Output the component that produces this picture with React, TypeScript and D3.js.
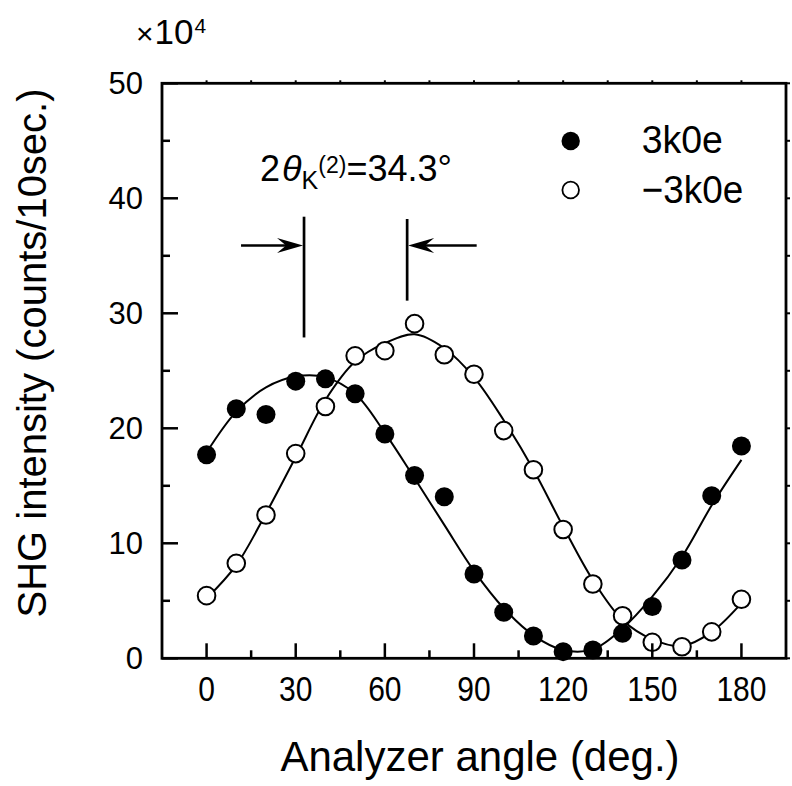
import React from "react";
import * as d3 from "d3";

// analyzer angles (deg.)
const angles = [0, 10, 20, 30, 40, 50, 60, 70, 80, 90, 100, 110, 120, 130, 140, 150, 160, 170, 180];
// SHG intensity (x10^4 counts/10sec.)
const plus3k = [17.7, 21.7, 21.2, 24.1, 24.3, 23.0, 19.5, 15.9, 14.05, 7.33, 4.0, 1.94, 0.58, 0.72, 2.17, 4.5, 8.55, 14.14, 18.46];
const minus3k = [5.45, 8.26, 12.46, 17.8, 21.9, 26.3, 26.75, 29.1, 26.4, 24.7, 19.8, 16.4, 11.2, 6.46, 3.7, 1.39, 1.0, 2.3, 5.13];
// fitted curves at the same angles
const fitPlus = [17.9, 21.45, 23.56, 24.5, 24.43, 23.0, 19.6, 15.65, 11.6, 7.6, 4.35, 2.0, 0.72, 0.78, 2.6, 5.36, 8.83, 13.3, 17.25];
const fitMinus = [5.2, 8.1, 12.6, 17.5, 22.46, 25.8, 27.4, 28.17, 26.96, 24.43, 20.7, 16.4, 11.45, 6.8, 3.33, 1.65, 1.07, 2.3, 4.8];

const xTicks = [0, 30, 60, 90, 120, 150, 180];
const xMinor = [15, 45, 75, 105, 135, 165];
const yTicks = [0, 10, 20, 30, 40, 50];
const yMinor = [5, 15, 25, 35, 45];
const legendLabels = ["3k0e", "\u22123k0e"];
// peak positions marked by the annotation
const peakAngles = [32.8, 67.5];

const W = 792;
const H = 786;
const x = d3.scaleLinear().domain([-15, 195]).range([162, 786]);
const y = d3.scaleLinear().domain([0, 50]).range([658.3, 83.3]);

const sans = "'Liberation Sans', Arial, sans-serif";

const line = d3
  .line<number>()
  .x((_, i) => x(angles[i]))
  .y((d) => y(d))
  .curve(d3.curveCatmullRom.alpha(0.5));

const Arrow = ({ x1, x2, yy }: { x1: number; x2: number; yy: number }) => {
  const dir = Math.sign(x2 - x1);
  const L = 26;
  const hw = 7.5;
  const head = `M${x2},${yy} L${x2 - dir * L},${yy - hw} L${x2 - dir * (L - 9)},${yy} L${x2 - dir * L},${yy + hw} Z`;
  return (
    <g>
      <line x1={x1} x2={x2 - dir * 6} y1={yy} y2={yy} stroke="#000" strokeWidth={2.5} />
      <path d={head} fill="#000" />
    </g>
  );
};

export default function App() {
  const x0 = x(-15);
  const x1 = x(195);
  const yb = y(0);
  const yt = y(50);
  return (
    <svg width={W} height={H} style={{ position: "absolute", left: 0, top: 0, background: "#fff" }}>
      {/* fitted curves */}
      <path d={line(fitPlus) || ""} fill="none" stroke="#000" strokeWidth={2} />
      <path d={line(fitMinus) || ""} fill="none" stroke="#000" strokeWidth={2} />

      {/* data */}
      {plus3k.map((v, i) => (
        <circle key={"p" + i} cx={x(angles[i])} cy={y(v)} r={9.5} fill="#000" />
      ))}
      {minus3k.map((v, i) => (
        <circle key={"m" + i} cx={x(angles[i])} cy={y(v)} r={8.8} fill="#fff" stroke="#000" strokeWidth={2} />
      ))}

      {/* frame */}
      <rect x={x0} y={yt} width={x1 - x0} height={yb - yt} fill="none" stroke="#000" strokeWidth={2.8} />
      {xTicks.map((t) => (
        <g key={"xt" + t}>
          <line x1={x(t)} x2={x(t)} y1={yb} y2={yb - 15} stroke="#000" strokeWidth={2.5} />
          <line x1={x(t)} x2={x(t)} y1={yt} y2={yt - 3} stroke="#000" strokeWidth={2} />
          <text
            x={x(t)}
            y={701}
            textAnchor="middle"
            fontFamily={sans}
            fontSize={35}
            textLength={String(t).length * 16.7}
            lengthAdjust="spacingAndGlyphs"
          >
            {t}
          </text>
        </g>
      ))}
      {xMinor.map((t) => (
        <g key={"xm" + t}>
          <line x1={x(t)} x2={x(t)} y1={yb} y2={yb - 8} stroke="#000" strokeWidth={2.5} />
          <line x1={x(t)} x2={x(t)} y1={yt} y2={yt - 3} stroke="#000" strokeWidth={2} />
        </g>
      ))}
      {yTicks.map((t) => (
        <g key={"yt" + t}>
          <line x1={x0} x2={x0 + 16} y1={y(t)} y2={y(t)} stroke="#000" strokeWidth={2.5} />
          <line x1={x1} x2={x1 + 4} y1={y(t)} y2={y(t)} stroke="#000" strokeWidth={2} />
          <text x={143} y={y(t) + 11} textAnchor="end" fontFamily={sans} fontSize={31}>
            {t}
          </text>
        </g>
      ))}
      {yMinor.map((t) => (
        <g key={"ym" + t}>
          <line x1={x0} x2={x0 + 8} y1={y(t)} y2={y(t)} stroke="#000" strokeWidth={2.5} />
          <line x1={x1} x2={x1 + 4} y1={y(t)} y2={y(t)} stroke="#000" strokeWidth={2} />
        </g>
      ))}

      {/* multiplier */}
      <text x={136} y={44} fontFamily={sans} fontSize={35}>
        <tspan fontSize={30}>{"\u00d7"}</tspan>
        <tspan dx={1}>10</tspan>
        <tspan fontSize={21} dy={-11} dx={1}>
          4
        </tspan>
      </text>

      {/* axis titles */}
      <text x={480} y={771} textAnchor="middle" fontFamily={sans} fontSize={42}>
        Analyzer angle (deg.)
      </text>
      <text
        transform="translate(46,353) rotate(-90)"
        textAnchor="middle"
        fontFamily={sans}
        fontSize={40}
      >
        SHG intensity (counts/10sec.)
      </text>

      {/* legend */}
      <circle cx={570.7} cy={141} r={9.2} fill="#000" />
      <circle cx={570.7} cy={190} r={8.3} fill="#fff" stroke="#000" strokeWidth={1.8} />
      {legendLabels.map((s, i) => (
        <text
          key={s}
          x={641.7}
          y={153.3 + i * 49.4}
          fontFamily={sans}
          fontSize={39}
          textLength={s.length * 20.3}
          lengthAdjust="spacingAndGlyphs"
        >
          {s}
        </text>
      ))}

      {/* peak separation annotation */}
      <line x1={x(peakAngles[0])} x2={x(peakAngles[0])} y1={y(38.4)} y2={y(27.9)} stroke="#000" strokeWidth={2.7} />
      <line x1={x(peakAngles[1])} x2={x(peakAngles[1])} y1={y(38.2)} y2={y(31.1)} stroke="#000" strokeWidth={2.7} />
      <Arrow x1={x(11.6)} x2={x(peakAngles[0]) - 1} yy={y(35.9)} />
      <Arrow x1={x(90.9)} x2={x(peakAngles[1]) + 1} yy={y(35.9)} />
      <text x={260} y={180.5} fontFamily={sans} fontSize={36}>
        2
        <tspan dx={2} fontStyle="italic">
          {"\u03b8"}
        </tspan>
        <tspan fontSize={25} dy={8.5}>
          K
        </tspan>
        <tspan fontSize={23} dy={-16}>
          (2)
        </tspan>
        <tspan fontSize={36} dy={7.5}>
          =34.3°
        </tspan>
      </text>
    </svg>
  );
}
